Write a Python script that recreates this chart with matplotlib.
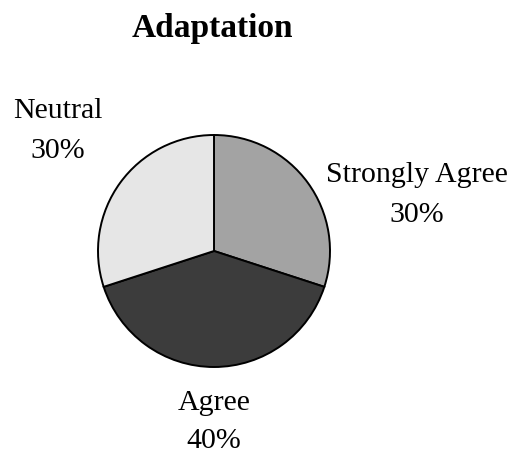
import matplotlib
matplotlib.use("Agg")
import matplotlib.pyplot as plt

title = "Adaptation"
categories = ["Strongly Agree", "Agree", "Neutral"]
values = [30, 40, 30]
colors = ["#a3a3a3", "#3c3c3c", "#e6e6e6"]

W, H = 511, 454
fig = plt.figure(figsize=(W / 100, H / 100), dpi=100)
ax = fig.add_axes([0, 0, 1, 1])

cx, cy, r = 214, H - 251, 116
wedges, _ = ax.pie(values, colors=colors, startangle=90, counterclock=False,
                   center=(cx, cy), radius=r,
                   wedgeprops=dict(edgecolor="black", linewidth=1.4))
ax.set_xlim(0, W)
ax.set_ylim(0, H)
ax.set_aspect("equal")
ax.axis("off")

serif = ["Liberation Serif", "DejaVu Serif"]
label_pos = {"Strongly Agree": (417, H - 195), "Agree": (214, H - 422), "Neutral": (58, H - 131)}
for cat, v in zip(categories, values):
    x, y = label_pos[cat]
    ax.text(x, y, f"{cat}\n{v}%", ha="center", va="center", fontsize=21.5,
            family=serif, linespacing=1.65)

ax.text(212, H - 28, title, ha="center", va="center", fontsize=24,
        fontweight="bold", family=serif)

fig.savefig("out.png", dpi=100)
